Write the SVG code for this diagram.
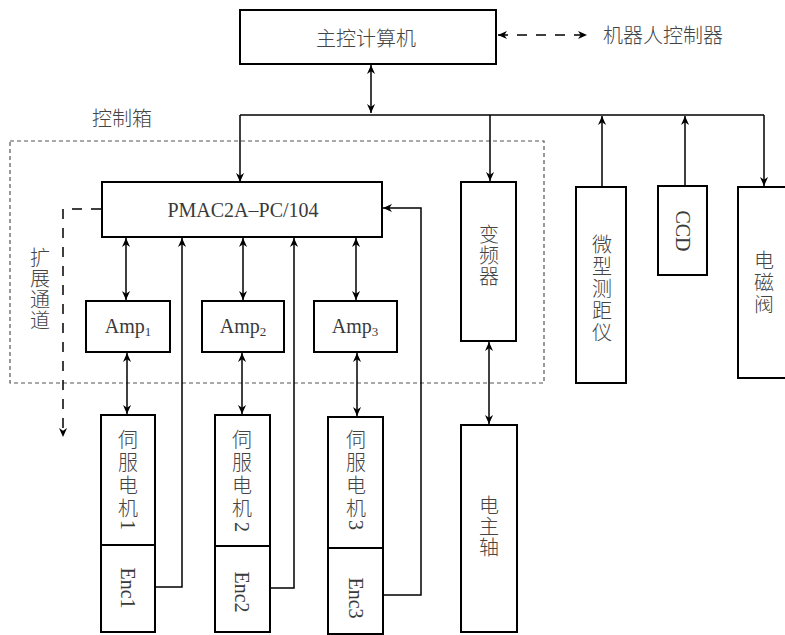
<svg xmlns="http://www.w3.org/2000/svg" width="785" height="635" viewBox="0 0 785 635">
<style>
.box{fill:#fff;stroke:#000;stroke-width:2}
.ln{fill:none;stroke:#000;stroke-width:1.5}
.dash{fill:none;stroke:#000;stroke-width:1.5;stroke-dasharray:10,9}
.cj{font-family:"Noto Sans CJK SC","Noto Sans CJK JP",sans-serif;font-size:20px;font-weight:300;fill:#444}
.lt{font-family:"Liberation Serif","Times New Roman",serif;font-size:20px;fill:#3a3a3a}
.v{writing-mode:vertical-rl;text-anchor:middle}
.h{text-anchor:middle;dominant-baseline:central}
</style>
<defs>
<marker id="ah" viewBox="0 0 10 10" refX="10" refY="5" markerWidth="9" markerHeight="9" markerUnits="userSpaceOnUse" orient="auto-start-reverse">
<path d="M0,0.5 L10,5 L0,9.5 L3,5 z" fill="#000"/>
</marker>
</defs>

<rect id="control-box" x="10" y="141" width="534" height="242" fill="none" stroke="#555" stroke-width="1.2" stroke-dasharray="4,3"/>
<text id="control-box-label" class="cj" x="92" y="117" dominant-baseline="central">控制箱</text>

<g id="connectors">
<path class="dash" d="M498,35 L587,35" marker-start="url(#ah)" marker-end="url(#ah)"/>
<path class="ln" d="M371,65 L371,113" marker-start="url(#ah)" marker-end="url(#ah)"/>
<path class="ln" d="M240,115 L764,115"/>
<path class="ln" d="M240,115 L240,182" marker-end="url(#ah)"/>
<path class="ln" d="M490,115 L490,181" marker-end="url(#ah)"/>
<path class="ln" d="M602,187 L602,116" marker-end="url(#ah)"/>
<path class="ln" d="M685,186 L685,116" marker-end="url(#ah)"/>
<path class="ln" d="M764,115 L764,186" marker-end="url(#ah)"/>
<path class="ln" d="M126,238 L126,300" marker-start="url(#ah)" marker-end="url(#ah)"/>
<path class="ln" d="M243,238 L243,300" marker-start="url(#ah)" marker-end="url(#ah)"/>
<path class="ln" d="M356,238 L356,300" marker-start="url(#ah)" marker-end="url(#ah)"/>
<path class="ln" d="M127,353 L127,414" marker-start="url(#ah)" marker-end="url(#ah)"/>
<path class="ln" d="M242,353 L242,414" marker-start="url(#ah)" marker-end="url(#ah)"/>
<path class="ln" d="M357,353 L357,416" marker-start="url(#ah)" marker-end="url(#ah)"/>
<path class="ln" d="M155,587 L182,587 L182,238" marker-end="url(#ah)"/>
<path class="ln" d="M270,588 L294,588 L294,238" marker-end="url(#ah)"/>
<path class="ln" d="M383,595 L421,595 L421,208 L383,208" marker-end="url(#ah)"/>
<path class="dash" d="M101,209 L63,209 L63,437" marker-end="url(#ah)"/>
<path class="ln" d="M489,342 L489,424" marker-start="url(#ah)" marker-end="url(#ah)"/>
</g>

<g id="host-pc">
<rect class="box" x="240" y="10" width="256" height="54"/>
<text class="cj h" x="366" y="37">主控计算机</text>
</g>
<g id="robot-controller">
<text class="cj" x="603" y="34" dominant-baseline="central">机器人控制器</text>
</g>
<g id="pmac">
<rect class="box" x="102" y="182" width="280" height="55"/>
<text class="lt h" x="243" y="210" font-size="21">PMAC2A–PC/104</text>
</g>
<g id="expansion">
<text class="cj v" x="40" y="289" style="letter-spacing:1px">扩展通道</text>
</g>
<g id="amp1">
<rect class="box" x="86" y="301" width="84" height="51"/>
<text class="lt" x="128" y="333" text-anchor="middle">Amp<tspan font-size="13" dy="3">1</tspan></text>
</g>
<g id="amp2">
<rect class="box" x="202" y="301" width="82" height="51"/>
<text class="lt" x="243" y="333" text-anchor="middle">Amp<tspan font-size="13" dy="3">2</tspan></text>
</g>
<g id="amp3">
<rect class="box" x="314" y="301" width="83" height="51"/>
<text class="lt" x="355" y="333" text-anchor="middle">Amp<tspan font-size="13" dy="3">3</tspan></text>
</g>
<g id="motor1">
<rect class="box" x="101" y="415" width="54" height="130"/>
<text class="cj v" x="128" y="475" style="letter-spacing:3px">伺服电机</text>
<text class="lt h" transform="translate(128,525) rotate(90)">1</text>
<rect class="box" x="101" y="545" width="54" height="87"/>
<text class="lt v" x="128" y="588">Enc1</text>
</g>
<g id="motor2">
<rect class="box" x="215" y="415" width="55" height="131"/>
<text class="cj v" x="242" y="475" style="letter-spacing:3px">伺服电机</text>
<text class="lt h" transform="translate(242,527) rotate(90)">2</text>
<rect class="box" x="215" y="546" width="55" height="86"/>
<text class="lt v" x="242" y="592">Enc2</text>
</g>
<g id="motor3">
<rect class="box" x="328" y="417" width="55" height="131"/>
<text class="cj v" x="356" y="475" style="letter-spacing:3px">伺服电机</text>
<text class="lt h" transform="translate(356,525) rotate(90)">3</text>
<rect class="box" x="328" y="548" width="55" height="86"/>
<text class="lt v" x="356" y="598">Enc3</text>
</g>
<g id="inverter">
<rect class="box" x="461" y="182" width="55" height="159"/>
<text class="cj v" x="489" y="256" style="letter-spacing:1px">变频器</text>
</g>
<g id="spindle">
<rect class="box" x="461" y="425" width="56" height="207"/>
<text class="cj v" x="489" y="527" style="letter-spacing:1px">电主轴</text>
</g>
<g id="rangefinder">
<rect class="box" x="576" y="187" width="50" height="196"/>
<text class="cj v" x="602" y="289" style="letter-spacing:2px">微型测距仪</text>
</g>
<g id="ccd">
<rect class="box" x="658" y="186" width="49" height="89"/>
<text class="lt v" x="683" y="231">CCD</text>
</g>
<g id="valve">
<rect class="box" x="738" y="187" width="60" height="191"/>
<text class="cj v" x="764" y="283" style="letter-spacing:2px">电磁阀</text>
</g>
</svg>
